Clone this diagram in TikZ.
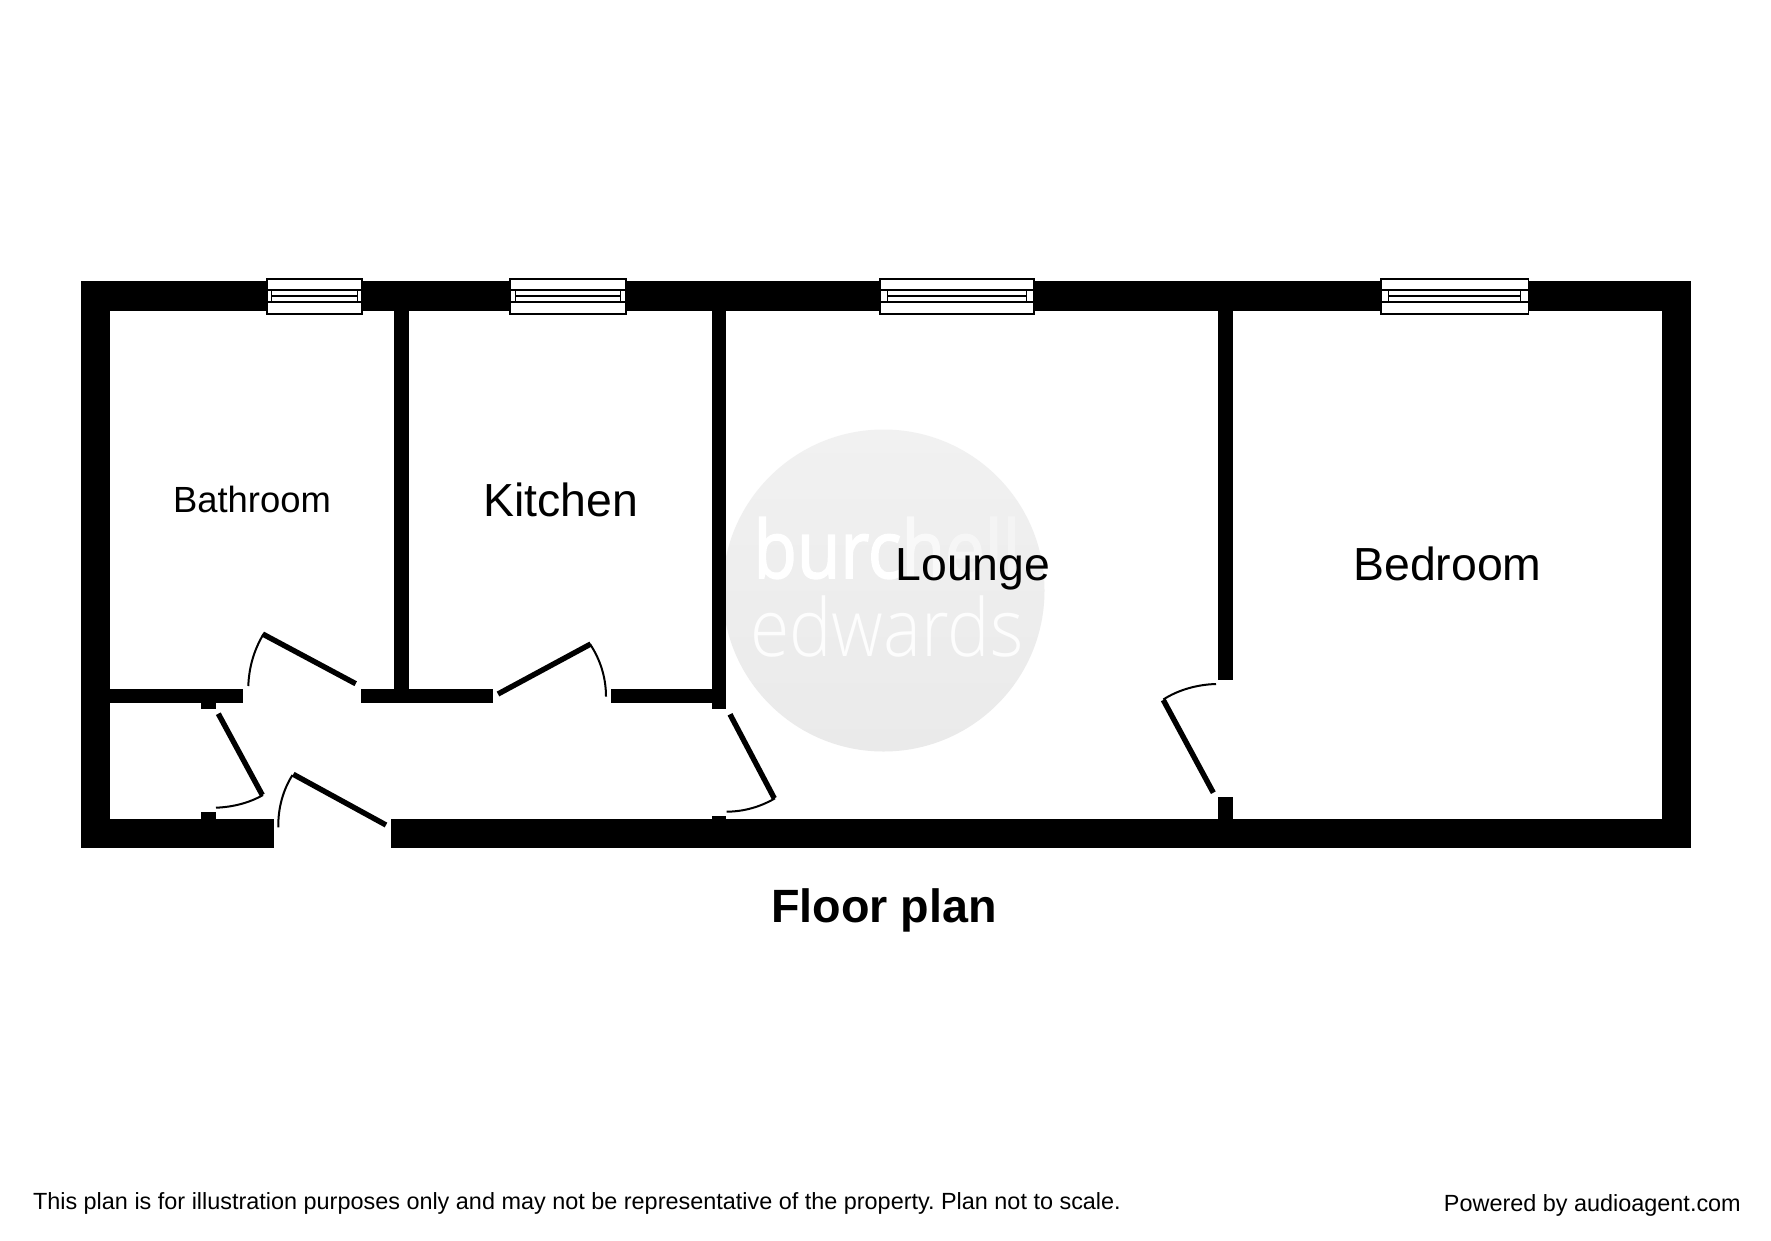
\documentclass[tikz,border=0pt]{standalone}
\usepackage{fontspec}
\setmainfont{Liberation Sans}
\newfontfamily\wmfont[FakeBold=2.2]{Open Sans}
\newfontfamily\wmlight{Open Sans Light}
\usetikzlibrary{shadings}
\definecolor{circtop}{HTML}{F1F1F1}
\definecolor{circbot}{HTML}{EAEAEA}
\tikzset{
  x=1pt,y=-1pt,
  wall/.style={fill=black,draw=none},
  leaf/.style={draw=black,line width=5.4pt},
  swing/.style={draw=black,line width=2pt},
  winframe/.style={draw=black,line width=1.5pt,fill=white},
  winline/.style={draw=black,line width=1.5pt},
  roomlarge/.style={anchor=base,inner sep=0pt,font=\fontsize{46.4}{46.4}\selectfont},
  roomsmall/.style={anchor=base,inner sep=0pt,font=\fontsize{36.4}{36.4}\selectfont},
  foot/.style={inner sep=0pt,font=\fontsize{23.42}{23.42}\selectfont\frenchspacing},
  wm/.style={anchor=base,inner sep=0pt,text=white},
}
\newcommand{\winbox}[4]{% xleft,xright,innerleft,innerright
  \path[winframe] (#1,279) rectangle (#2,314);
  \path[winframe] (#1,290) rectangle (#2,302);
  \path[winline] (#3,290) -- (#3,302) (#4,290) -- (#4,302) (#3,296) -- (#4,296);
}
\begin{document}
\begin{tikzpicture}
\useasboundingbox (0,0) rectangle (1771,1240);
\fill[white] (0,0) rectangle (1771,1240);
% watermark
\path[top color=circtop,bottom color=circbot,draw=none] (883.5,590.5) circle [radius=161];
\node[wm] (wma) at (887,578) {\scalebox{0.885}[1]{\fontsize{80}{80}\wmfont\selectfont\color{white}burc\color{white!55!circtop}h\color{white!35!circtop}e\color{white!20!circtop}ll}};
\node[wm] (wmb) at (887,656.5) {\scalebox{0.894}[1]{\fontsize{80}{80}\wmlight\selectfont\color{white!85!circtop}edwards}};
% walls
\path[wall] (81,281.3) rectangle (1691,310.5);
\path[wall] (81,281.3) rectangle (110,848.3);
\path[wall] (1662,281.3) rectangle (1691,848.3);
\path[wall] (81,819.3) rectangle (273.7,848.3);
\path[wall] (391,819.3) rectangle (1691,848.3);
\path[wall] (394.3,310) rectangle (408.7,703);
\path[wall] (711.7,310) rectangle (726,709.3);
\path[wall] (1218.3,310) rectangle (1232.7,680.3);
\path[wall] (1218.3,797.3) rectangle (1232.7,820);
\path[wall] (711.7,816.3) rectangle (726,820);
\path[wall] (201.3,702) rectangle (216,709.3);
\path[wall] (201.3,812.3) rectangle (216,820);
\path[wall] (110,688.7) rectangle (243,702.7);
\path[wall] (361,688.7) rectangle (492.7,702.7);
\path[wall] (610.7,688.7) rectangle (712,702.7);
% doors
\draw[leaf] (355.7,683.7) -- (262.7,634);
\draw[swing] (263.5,634) .. controls (254,650) and (249,667) .. (248.3,686);
\draw[leaf] (218.3,713.7) -- (262.3,795);
\draw[swing] (263,795) .. controls (249,803) and (233,807) .. (216,807.7);
\draw[leaf] (293.3,774.3) -- (386,825);
\draw[swing] (292.5,775) .. controls (283,790) and (278,808) .. (278.3,827.3);
\draw[leaf] (498,694) -- (590.7,644);
\draw[swing] (590,644) .. controls (600,659) and (606,677) .. (606,696.7);
\draw[leaf] (730,714.3) -- (774.3,798.3);
\draw[swing] (775,798.3) .. controls (760,807) and (744,811.5) .. (726.7,811.7);
\draw[leaf] (1163.3,700) -- (1213.3,792.7);
\draw[swing] (1163.3,699.5) .. controls (1178,690) and (1197,684.5) .. (1216,684);
% windows
\winbox{267}{362}{271.6}{357.7}
\winbox{510}{626}{515.4}{620.6}
\winbox{880}{1034}{887.3}{1026.7}
\winbox{1381}{1528.7}{1388.3}{1520.7}
% labels
\node[roomsmall] (bath) at (252,512) {Bathroom};
\node[roomlarge] (kit) at (560.5,516) {Kitchen};
\node[roomlarge] (lounge) at (973,580) {Lounge};
\node[roomlarge] (bed) at (1447.5,580.5) {Bedroom};
\node[roomlarge,font=\fontsize{46.7}{46.7}\selectfont\bfseries] (title) at (884,922) {Floor plan};
\node[foot,anchor=base west] (disc) at (32.8,1209) {This plan is for illustration purposes only and may not be representative of the property. Plan not to scale.};
\node[foot,anchor=base east] (power) at (1741,1211) {Powered by audioagent.com};
\end{tikzpicture}
\end{document}
